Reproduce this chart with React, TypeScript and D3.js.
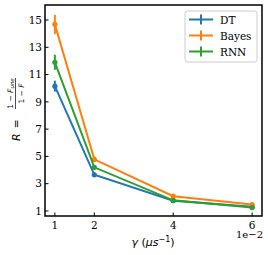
import * as React from "react";
import { scaleLinear, line } from "d3";

const gammas = [0.01, 0.02, 0.04, 0.06];
const dtValues = [10.15, 3.65, 1.75, 1.3];
const dtErr = [0.4, 0.15, 0.1, 0.08];
const bayesValues = [14.68, 4.78, 2.08, 1.47];
const bayesErr = [0.7, 0.2, 0.12, 0.1];
const rnnValues = [11.9, 4.2, 1.78, 1.25];
const rnnErr = [0.55, 0.15, 0.1, 0.08];
const xTicks = [0.01, 0.02, 0.04, 0.06];
const yTicks = [1, 3, 5, 7, 9, 11, 13, 15];

const series = [
  { name: "DT", values: dtValues, err: dtErr, color: "#1f77b4" },
  { name: "Bayes", values: bayesValues, err: bayesErr, color: "#ff7f0e" },
  { name: "RNN", values: rnnValues, err: rnnErr, color: "#2ca02c" },
];

const W = 268;
const H = 255;
const left = 45;
const right = 262;
const top = 5;
const bottom = 216;
const serif = "'DejaVu Serif', serif";
const sans = "'DejaVu Sans', sans-serif";

function App() {
  const x = scaleLinear().domain([0.0075, 0.0625]).range([left, right]);
  const y = scaleLinear().domain([0.63, 16.1]).range([bottom, top]);

  const path = line<number>()
    .x((d, i) => x(gammas[i]))
    .y((d) => y(d));

  return (
    <svg
      width={W}
      height={H}
      style={{ position: "absolute", left: 0, top: 0 }}
      viewBox={`0 0 ${W} ${H}`}
    >
      <rect width={W} height={H} fill="white" />
      {/* series */}
      {series.map((s) => (
        <g key={s.name}>
          <path d={path(s.values)} fill="none" stroke={s.color} strokeWidth={2} />
          {s.values.map((v, i) => (
            <g key={i}>
              <line
                x1={x(gammas[i])}
                x2={x(gammas[i])}
                y1={y(v - s.err[i])}
                y2={y(v + s.err[i])}
                stroke={s.color}
                strokeWidth={2}
              />
              <circle cx={x(gammas[i])} cy={y(v)} r={2.6} fill={s.color} />
            </g>
          ))}
        </g>
      ))}
      {/* frame */}
      <rect
        x={left}
        y={top}
        width={right - left}
        height={bottom - top}
        fill="none"
        stroke="black"
        strokeWidth={1.5}
      />
      {/* y ticks */}
      {yTicks.map((t) => (
        <g key={t}>
          <line x1={left} x2={left + 3.5} y1={y(t)} y2={y(t)} stroke="black" strokeWidth={1} />
          <text
            x={left - 3}
            y={y(t) + 3.8}
            textAnchor="end"
            fontFamily={serif}
            fontSize={10.5}
          >
            {t}
          </text>
        </g>
      ))}
      {/* x ticks */}
      {xTicks.map((t) => (
        <g key={t}>
          <line x1={x(t)} x2={x(t)} y1={bottom} y2={bottom - 3.5} stroke="black" strokeWidth={1} />
          <text x={x(t)} y={228.5} textAnchor="middle" fontFamily={serif} fontSize={10.5}>
            {Math.round(t * 100)}
          </text>
        </g>
      ))}
      <text x={263} y={238} textAnchor="end" fontFamily={serif} fontSize={10}>
        1e−2
      </text>
      {/* x label */}
      <text x={153} y={246} textAnchor="middle" fontFamily={sans} fontSize={11}>
        <tspan fontStyle="italic">γ</tspan>
        <tspan> (</tspan>
        <tspan fontStyle="italic">μs</tspan>
        <tspan dy={-4} fontSize={8}>−1</tspan>
        <tspan dy={4}>)</tspan>
      </text>
      {/* y label */}
      <g transform="translate(15.5,110) rotate(-90)" fontFamily={sans}>
        <text x={-31} y={4} fontSize={11}>
          <tspan fontStyle="italic">R</tspan>
        </text>
        <text x={-14} y={4} fontSize={11} textAnchor="middle">
          =
        </text>
        <line x1={1} x2={32} y1={0} y2={0} stroke="black" strokeWidth={0.7} />
        <text x={16.5} y={-3} textAnchor="middle" fontSize={7.5}>
          <tspan>1 − </tspan>
          <tspan fontStyle="italic">F</tspan>
          <tspan fontStyle="italic" fontSize={5.5} dy={1.5}>une</tspan>
        </text>
        <text x={16.5} y={8.5} textAnchor="middle" fontSize={7.5}>
          <tspan>1 − </tspan>
          <tspan fontStyle="italic">F</tspan>
        </text>
      </g>
      {/* legend */}
      <g>
        <rect
          x={185}
          y={11}
          width={72}
          height={51}
          rx={2.5}
          fill="white"
          fillOpacity={0.8}
          stroke="#cccccc"
          strokeWidth={1}
        />
        {series.map((s, i) => {
          const ly = 19.5 + i * 16;
          return (
            <g key={s.name}>
              <line x1={189} x2={213} y1={ly} y2={ly} stroke={s.color} strokeWidth={2} />
              <line x1={201} x2={201} y1={ly - 5} y2={ly + 5} stroke={s.color} strokeWidth={2} />
              <text x={220} y={ly + 4} fontFamily={serif} fontSize={10.5}>
                {s.name}
              </text>
            </g>
          );
        })}
      </g>
    </svg>
  );
}

export default App;
